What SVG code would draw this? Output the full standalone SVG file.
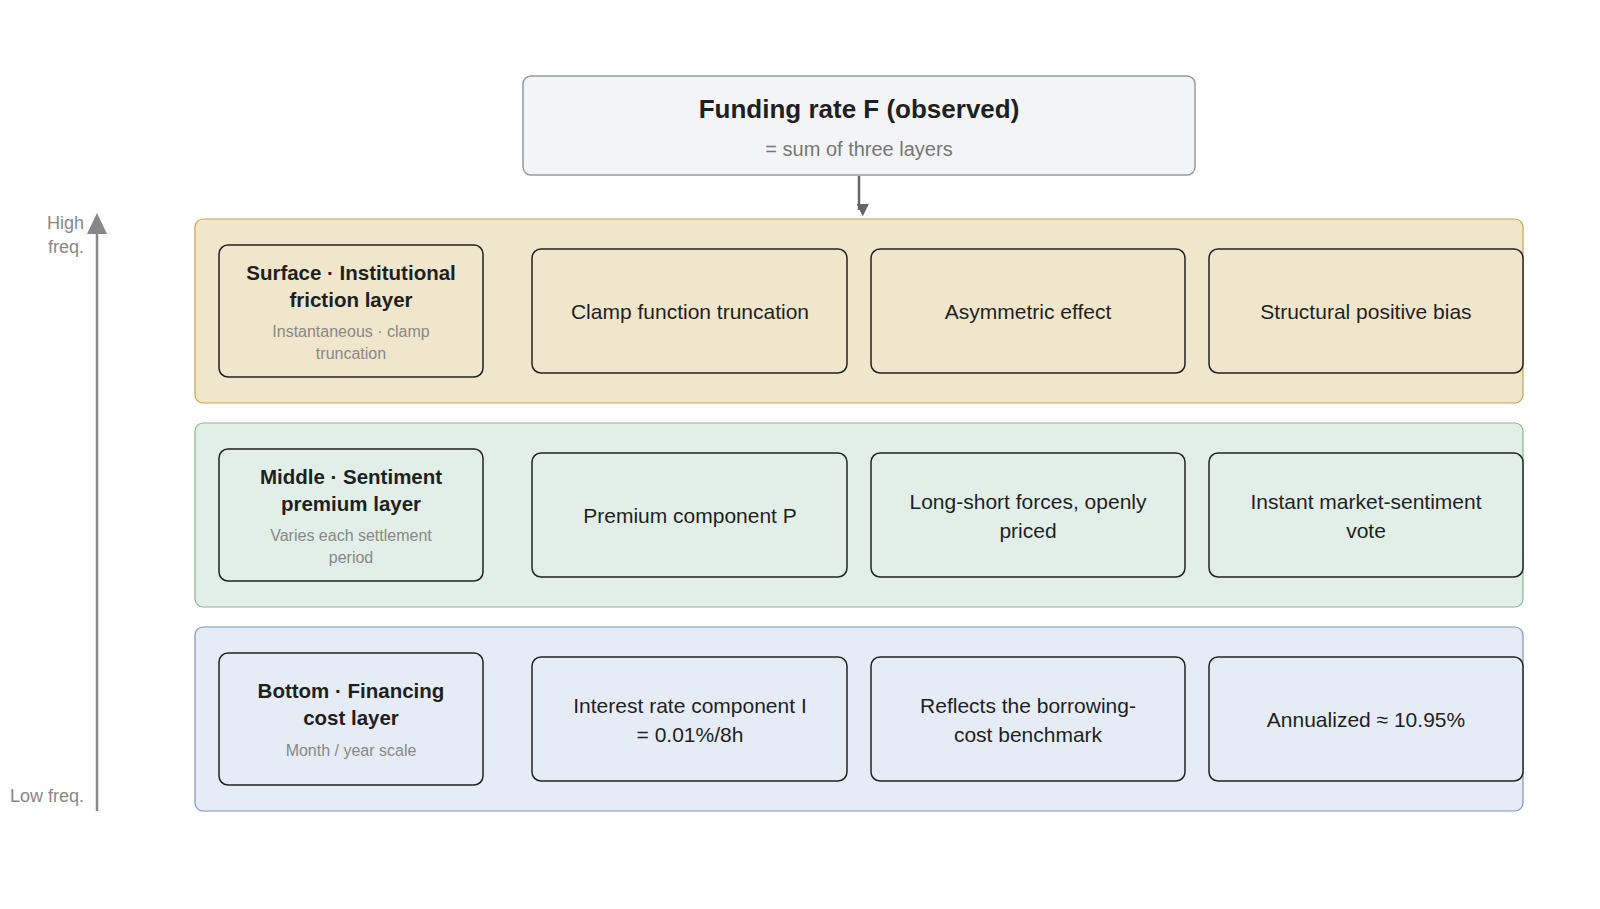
<svg xmlns="http://www.w3.org/2000/svg" width="1600" height="909" viewBox="0 0 1600 909">
<style>
text{font-family:"Liberation Sans",Arial,sans-serif;text-anchor:middle;fill:#1f1f1f}
.b{font-weight:bold;font-size:20.5px}
.s{font-size:16px;fill:#888}
.i{font-size:21px}
.card{stroke:#222;stroke-width:1.5}
.ax{font-size:18px;fill:#888;text-anchor:end}
</style>
<defs><marker id="ah" viewBox="0 0 10 10" refX="5" refY="8" markerWidth="5" markerHeight="5" orient="auto"><path d="M0,0 L10,5 L0,10 z" fill="#666"/></marker></defs>
<rect width="1600" height="909" fill="#fff"/>
<g id="top"><rect x="523" y="76" width="672" height="99" rx="8" fill="#f3f4f6" stroke="#999" stroke-width="1.5"/>
<text x="859" y="118" style="font-size:26px;font-weight:bold">Funding rate F (observed)</text>
<text x="859" y="156" style="font-size:20px;fill:#777">= sum of three layers</text></g>
<g id="connectors">
<line x1="859" y1="176" x2="859" y2="210" stroke="#666" stroke-width="2.5" marker-end="url(#ah)"/>
<line x1="97" y1="811" x2="97" y2="228" stroke="#888" stroke-width="2.5"/>
<path d="M87,234 L97,213 L107,234 z" fill="#888"/>
</g>
<g id="axis-labels"><text class="ax" x="84" y="229">High</text><text class="ax" x="84" y="253">freq.</text><text class="ax" x="84" y="802">Low freq.</text></g>
<g id="surface"><rect x="195" y="219" width="1328" height="184" rx="8" fill="#f0e6cc" stroke="#c9a24a" stroke-width="1.2"/>
<rect class="card" x="219" y="245" width="264" height="132" rx="9" fill="#f0e6cc"/>
<text class="b" x="351" y="280">Surface · Institutional</text><text class="b" x="351" y="307">friction layer</text>
<text class="s" x="351" y="337">Instantaneous · clamp</text><text class="s" x="351" y="359">truncation</text></g>
<g id="s1"><rect class="card" x="532" y="249" width="315" height="124" rx="9" fill="#f0e6cc"/><text class="i" x="690" y="319">Clamp function truncation</text></g>
<g id="s2"><rect class="card" x="871" y="249" width="314" height="124" rx="9" fill="#f0e6cc"/><text class="i" x="1028" y="319">Asymmetric effect</text></g>
<g id="s3"><rect class="card" x="1209" y="249" width="314" height="124" rx="9" fill="#f0e6cc"/><text class="i" x="1366" y="319">Structural positive bias</text></g>
<g id="middle"><rect x="195" y="423" width="1328" height="184" rx="8" fill="#e2efe8" stroke="#8ab59a" stroke-width="1.2"/>
<rect class="card" x="219" y="449" width="264" height="132" rx="9" fill="#e2efe8"/>
<text class="b" x="351" y="484">Middle · Sentiment</text><text class="b" x="351" y="511">premium layer</text>
<text class="s" x="351" y="541">Varies each settlement</text><text class="s" x="351" y="563">period</text></g>
<g id="m1"><rect class="card" x="532" y="453" width="315" height="124" rx="9" fill="#e2efe8"/><text class="i" x="690" y="523">Premium component P</text></g>
<g id="m2"><rect class="card" x="871" y="453" width="314" height="124" rx="9" fill="#e2efe8"/><text class="i" x="1028" y="509">Long-short forces, openly</text><text class="i" x="1028" y="538">priced</text></g>
<g id="m3"><rect class="card" x="1209" y="453" width="314" height="124" rx="9" fill="#e2efe8"/><text class="i" x="1366" y="509">Instant market-sentiment</text><text class="i" x="1366" y="538">vote</text></g>
<g id="bottom"><rect x="195" y="627" width="1328" height="184" rx="8" fill="#e6ecf5" stroke="#7d95b5" stroke-width="1.2"/>
<rect class="card" x="219" y="653" width="264" height="132" rx="9" fill="#e6ecf5"/>
<text class="b" x="351" y="698">Bottom · Financing</text><text class="b" x="351" y="725">cost layer</text>
<text class="s" x="351" y="756">Month / year scale</text></g>
<g id="b1"><rect class="card" x="532" y="657" width="315" height="124" rx="9" fill="#e6ecf5"/><text class="i" x="690" y="713">Interest rate component I</text><text class="i" x="690" y="742">= 0.01%/8h</text></g>
<g id="b2"><rect class="card" x="871" y="657" width="314" height="124" rx="9" fill="#e6ecf5"/><text class="i" x="1028" y="713">Reflects the borrowing-</text><text class="i" x="1028" y="742">cost benchmark</text></g>
<g id="b3"><rect class="card" x="1209" y="657" width="314" height="124" rx="9" fill="#e6ecf5"/><text class="i" x="1366" y="727">Annualized ≈ 10.95%</text></g>
</svg>
